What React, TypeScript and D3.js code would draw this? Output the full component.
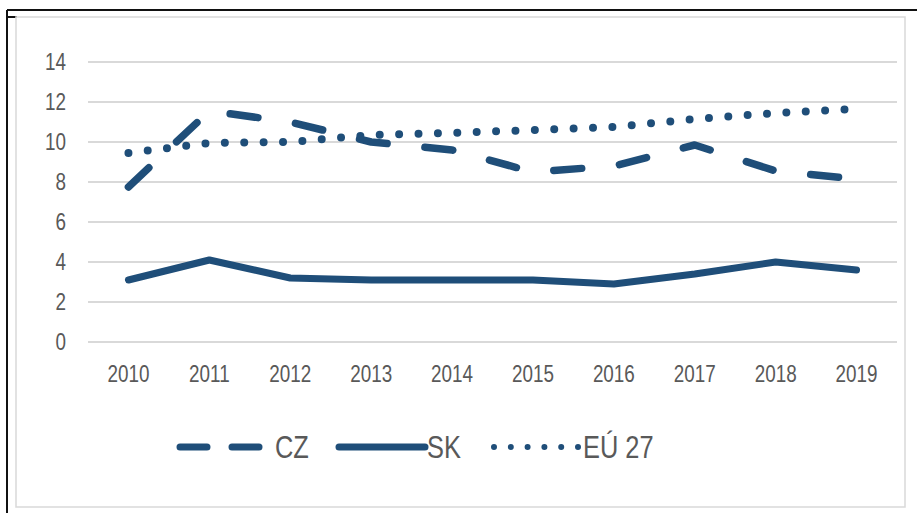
import React, { useEffect, useRef } from "react";
import * as d3 from "d3";

const years = ["2010", "2011", "2012", "2013", "2014", "2015", "2016", "2017", "2018", "2019"];
const czValues = [7.75, 11.55, 11.0, 10.0, 9.6, 8.5, 8.8, 9.85, 8.55, 8.15];
const skValues = [3.1, 4.1, 3.2, 3.1, 3.1, 3.1, 2.9, 3.4, 4.0, 3.6];
const euValues = [9.45, 9.95, 10.0, 10.35, 10.45, 10.6, 10.75, 11.15, 11.45, 11.65];
const yTicks = [0, 2, 4, 6, 8, 10, 12, 14];

const seriesNames = ["CZ", "SK", "EÚ 27"];

const COLOR = "#1f4e79";
const TEXT = "#595959";
const FONT = "'Liberation Sans', Arial, sans-serif";
// the original font is a narrow one, squeeze Liberation Sans to match
const SQUEEZE = 0.82;

export default function App() {
    const ref = useRef<SVGSVGElement | null>(null);

    useEffect(() => {
        const width = 917;
        const height = 513;
        const margin = { top: 62, right: 20, bottom: 171, left: 88 };
        const svg = d3.select(ref.current);
        svg.selectAll("*").remove();

        // frame
        svg.append("rect").attr("width", width).attr("height", height).attr("fill", "#fff");
        svg.append("line").attr("x1", 7).attr("x2", width).attr("y1", 10).attr("y2", 10)
            .attr("stroke", "#111").attr("stroke-width", 2);
        svg.append("line").attr("x1", 7).attr("x2", 7).attr("y1", 10).attr("y2", height)
            .attr("stroke", "#111").attr("stroke-width", 2);
        svg.append("line").attr("x1", 7).attr("x2", 17).attr("y1", 17).attr("y2", 17)
            .attr("stroke", "#111").attr("stroke-width", 2);
        svg.append("rect").attr("x", 16).attr("y", 17).attr("width", 889).attr("height", 490)
            .attr("fill", "none").attr("stroke", "#d9d9d9").attr("stroke-width", 1.5);

        const x = d3.scaleBand<string>()
            .domain(years)
            .range([margin.left, 897]);

        const y = d3.scaleLinear()
            .domain([0, 14])
            .range([342, margin.top]);

        // gridlines
        svg.append("g")
            .selectAll("line")
            .data(yTicks)
            .enter()
            .append("line")
            .attr("x1", margin.left)
            .attr("x2", 897)
            .attr("y1", d => y(d))
            .attr("y2", d => y(d))
            .attr("stroke", "#d9d9d9")
            .attr("stroke-width", 2);

        // y labels
        svg.append("g")
            .selectAll("text")
            .data(yTicks)
            .enter()
            .append("text")
            .attr("transform", d => `translate(66,${y(d)}) scale(${SQUEEZE},1)`)
            .attr("dy", "0.36em")
            .attr("text-anchor", "end")
            .attr("font-family", FONT)
            .attr("font-size", 23)
            .attr("fill", TEXT)
            .text(d => d);

        // x labels
        svg.append("g")
            .selectAll("text")
            .data(years)
            .enter()
            .append("text")
            .attr("transform", d =>
                `translate(${(x(d) as number) + x.bandwidth() / 2},374) scale(${SQUEEZE},1)`)
            .attr("dy", "0.36em")
            .attr("text-anchor", "middle")
            .attr("font-family", FONT)
            .attr("font-size", 23)
            .attr("fill", TEXT)
            .text(d => d);

        const line = d3.line<number>()
            .x((d, i) => (x(years[i]) as number) + x.bandwidth() / 2)
            .y(d => y(d));

        const styles = [
            { values: czValues, dash: "28 38", width: 7.5 },
            { values: skValues, dash: null, width: 7 },
            { values: euValues, dash: "0 19.4", width: 8 }
        ];

        styles.forEach(s => {
            svg.append("path")
                .datum(s.values)
                .attr("d", line)
                .attr("fill", "none")
                .attr("stroke", COLOR)
                .attr("stroke-width", s.width)
                .attr("stroke-linecap", "round")
                .attr("stroke-linejoin", "round")
                .attr("stroke-dasharray", s.dash);
        });

        // legend
        const ly = 447;
        const legend = svg.append("g");
        const legendItems = [
            { name: seriesNames[0], x1: 180, x2: 260, dash: "27 25", width: 7, textX: 275 },
            { name: seriesNames[1], x1: 339, x2: 425, dash: null, width: 7, textX: 427 },
            { name: seriesNames[2], x1: 494, x2: 579, dash: "0 16.8", width: 6, textX: 583 }
        ];
        legendItems.forEach(it => {
            legend.append("line")
                .attr("x1", it.x1)
                .attr("x2", it.x2)
                .attr("y1", ly)
                .attr("y2", ly)
                .attr("stroke", COLOR)
                .attr("stroke-width", it.width)
                .attr("stroke-linecap", "round")
                .attr("stroke-dasharray", it.dash);
            legend.append("text")
                .attr("transform", `translate(${it.textX},${ly}) scale(${SQUEEZE},1)`)
                .attr("dy", "0.36em")
                .attr("font-family", FONT)
                .attr("font-size", 31)
                .attr("fill", TEXT)
                .text(it.name);
        });
    }, []);

    return (
        <svg
            ref={ref}
            width={917}
            height={513}
            style={{ position: "absolute", left: 0, top: 0 }}
        />
    );
}
